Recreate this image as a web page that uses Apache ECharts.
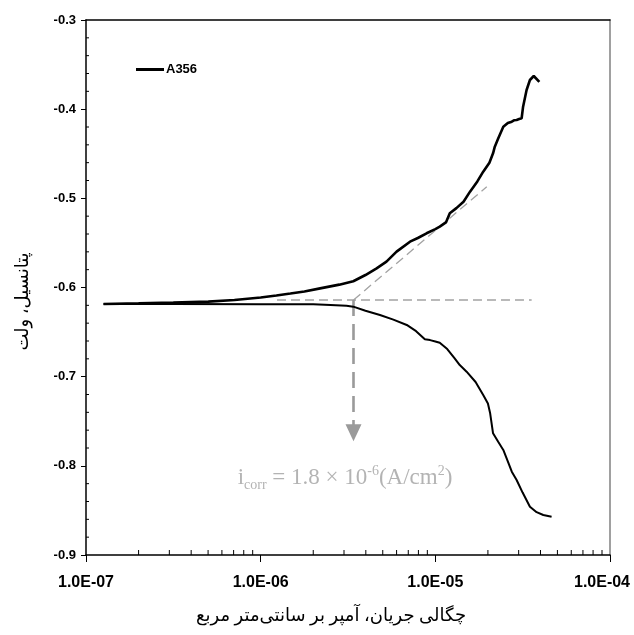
<!DOCTYPE html>
<html>
<head>
<meta charset="utf-8">
<script src="https://cdn.jsdelivr.net/npm/echarts@6/dist/echarts.min.js"></script>
<style>html,body{margin:0;padding:0;background:#fff;overflow:hidden}#c{width:634px;height:635px;overflow:hidden}</style>
</head>
<body>
<div id="c"></div>
<script>
// Anodic branch (upper)
const anodicI = [1.26e-7,2.0e-7,3.16e-7,5.01e-7,7.08e-7,1.0e-6,1.23e-6,1.48e-6,1.78e-6,2.19e-6,2.82e-6,3.39e-6,3.98e-6,4.61e-6,5.25e-6,6.0e-6,7.16e-6,7.94e-6,8.91e-6,1.0e-5,1.06e-5,1.15e-5,1.21e-5,1.32e-5,1.45e-5,1.58e-5,1.74e-5,1.88e-5,2.04e-5,2.14e-5,2.19e-5,2.29e-5,2.45e-5,2.60e-5,2.74e-5,2.82e-5,2.92e-5,3.02e-5,3.12e-5,3.18e-5,3.33e-5,3.48e-5,3.66e-5,3.94e-5];
const anodicE = [-0.6185,-0.6178,-0.6170,-0.6158,-0.6140,-0.6112,-0.6090,-0.6068,-0.6045,-0.6010,-0.5968,-0.5930,-0.5860,-0.5785,-0.5710,-0.5598,-0.5486,-0.5445,-0.5392,-0.5345,-0.5318,-0.5270,-0.5168,-0.5110,-0.5038,-0.4925,-0.4810,-0.4701,-0.4600,-0.4495,-0.4421,-0.4330,-0.4197,-0.4155,-0.4140,-0.4125,-0.4121,-0.4110,-0.4102,-0.3972,-0.3785,-0.3673,-0.3628,-0.3695];
// Cathodic branch (lower)
const cathodicI = [1.26e-7,3.16e-7,1.0e-6,2.0e-6,2.51e-6,3.10e-6,3.39e-6,3.98e-6,4.82e-6,5.75e-6,6.86e-6,7.76e-6,8.71e-6,9.33e-6,1.0e-5,1.06e-5,1.17e-5,1.29e-5,1.38e-5,1.51e-5,1.70e-5,1.88e-5,2.0e-5,2.06e-5,2.14e-5,2.29e-5,2.45e-5,2.60e-5,2.74e-5,2.92e-5,3.16e-5,3.48e-5,3.80e-5,4.15e-5,4.63e-5];
const cathodicE = [-0.6185,-0.6186,-0.6187,-0.6188,-0.6195,-0.6204,-0.6215,-0.6260,-0.6308,-0.6360,-0.6420,-0.6490,-0.6581,-0.6590,-0.6605,-0.6619,-0.6690,-0.6794,-0.6870,-0.6944,-0.7060,-0.7205,-0.7300,-0.7411,-0.7635,-0.7730,-0.7822,-0.7950,-0.8066,-0.8159,-0.8300,-0.8458,-0.8520,-0.8551,-0.8570];

// Guide lines
const ecorrLineI = [1.24e-6, 3.56e-5];
const ecorrLineE = [-0.614, -0.614];
const tafelLineI = [3.4e-6, 1.97e-5];
const tafelLineE = [-0.614, -0.487];
const icorrArrowI = [3.4e-6, 3.4e-6];
const icorrArrowE = [-0.614, -0.763];
const icorrLabelPos = [3.04e-6, -0.8136];

// Axes
const xMin = 1e-7, xMax = 1e-4;
const yMin = -0.9, yMax = -0.3, yInterval = 0.1;
const xMinorTicks = [2e-7,3e-7,4e-7,5e-7,6e-7,7e-7,8e-7,9e-7,2e-6,3e-6,4e-6,5e-6,6e-6,7e-6,8e-6,9e-6,2e-5,3e-5,4e-5,5e-5,6e-5,7e-5,8e-5,9e-5];
const yMinorTicks = [-0.88,-0.86,-0.84,-0.82,-0.78,-0.76,-0.74,-0.72,-0.68,-0.66,-0.64,-0.62,-0.58,-0.56,-0.54,-0.52,-0.48,-0.46,-0.44,-0.42,-0.38,-0.36,-0.34,-0.32];

const seriesName = 'A356';
const xTitle = 'چگالی جریان، آمپر بر سانتی‌متر مربع';
const yTitle = 'پتانسیل، ولت';

const zip = (a, b) => a.map((v, i) => [v, b[i]]);

function fmtX(v) {
  const e = Math.round(Math.log10(v));
  const m = v / Math.pow(10, e);
  const s = e < 0 ? '-' : '+';
  const ab = Math.abs(e);
  const t = m.toFixed(1) + 'E' + s + (ab < 10 ? '0' + ab : ab);
  return Math.abs(v - xMax) / xMax < 1e-6 ? '{last|' + t + '}' : t;
}

const chart = echarts.init(document.getElementById('c'), null, {renderer: 'canvas', width: 634, height: 635});
const gray = '#a3a3a3';
const xLabelFont = {fontFamily: 'Liberation Sans, Arial, sans-serif', fontWeight: 'bold', fontSize: 16, color: '#000'};
chart.setOption({
  animation: false,
  backgroundColor: '#fff',
  grid: {left: 86, right: 24, top: 20, bottom: 80, containLabel: false, outerBoundsMode: 'none'},
  legend: {
    data: [{name: seriesName, icon: 'rect'}],
    left: 131, top: 58,
    itemWidth: 28, itemHeight: 3, itemGap: 4,
    itemStyle: {color: '#000', borderWidth: 0},
    textStyle: {fontFamily: 'Liberation Sans, Arial, sans-serif', fontWeight: 'bold', fontSize: 13, color: '#000', padding: [0,0,0,-3]}
  },
  xAxis: [{
    type: 'log', logBase: 10, min: xMin, max: xMax,
    axisLine: {show: true, onZero: false, lineStyle: {color: '#000', width: 1.5}},
    axisTick: {show: true, inside: false, length: 7, lineStyle: {color: '#000', width: 1}},
    splitLine: {show: false},
    axisLabel: Object.assign({formatter: fmtX, margin: 20, hideOverlap: false,
      rich: {last: Object.assign({padding: [0, 16, 0, 0]}, xLabelFont)}}, xLabelFont),
    name: xTitle, nameLocation: 'middle', nameGap: 52,
    nameTextStyle: {fontFamily: 'Liberation Serif, DejaVu Serif, DejaVu Sans, serif', fontSize: 18, color: '#000', padding: [0, 34, 0, 0]}
  }, {
    type: 'log', logBase: 10, min: xMin, max: xMax, position: 'top',
    axisLine: {show: true, onZero: false, lineStyle: {color: '#000', width: 1.5}},
    axisTick: {show: false}, axisLabel: {show: false}, splitLine: {show: false}
  }],
  yAxis: [{
    type: 'value', min: yMin, max: yMax, interval: yInterval,
    axisLine: {show: true, onZero: false, lineStyle: {color: '#000', width: 1.5}},
    axisTick: {show: true, inside: false, length: 5, lineStyle: {color: '#000', width: 1}},
    splitLine: {show: false},
    axisLabel: {formatter: v => v.toFixed(1), margin: 10, fontFamily: 'Liberation Sans, Arial, sans-serif', fontWeight: 'bold', fontSize: 13, color: '#000'},
    name: yTitle, nameLocation: 'middle', nameGap: 54, nameRotate: 90,
    nameTextStyle: {fontFamily: 'Liberation Serif, DejaVu Serif, DejaVu Sans, serif', fontSize: 18, color: '#000', padding: [0, 28, 0, 0]}
  }, {
    type: 'value', min: yMin, max: yMax, interval: yInterval, position: 'right',
    axisLine: {show: true, onZero: false, lineStyle: {color: '#808080', width: 1.5}},
    axisTick: {show: false}, axisLabel: {show: false}, splitLine: {show: false}
  }],
  series: [
    {
      name: seriesName, type: 'line', data: zip(anodicI, anodicE), showSymbol: false, symbol: 'none',
      lineStyle: {color: '#000', width: 2.6}, itemStyle: {color: '#000'}, z: 5
    },
    {
      name: seriesName, type: 'line', data: zip(cathodicI, cathodicE), showSymbol: false, symbol: 'none',
      lineStyle: {color: '#000', width: 2}, itemStyle: {color: '#000'}, z: 5
    },
    {
      name: 'ecorr', type: 'line', data: zip(ecorrLineI, ecorrLineE), symbol: 'none',
      lineStyle: {color: gray, width: 1.3, type: [9, 5]}, z: 3
    },
    {
      name: 'tafel', type: 'line', data: zip(tafelLineI, tafelLineE), symbol: 'none',
      lineStyle: {color: gray, width: 1.3, type: [9, 5]}, z: 3
    },
    {
      name: 'icorr', type: 'line', data: [], symbol: 'none',
      markLine: {
        silent: true, symbol: ['none', 'triangle'], symbolSize: [16, 17],
        lineStyle: {color: '#9a9a9a', width: 2.6, type: [16, 8]},
        label: {show: false},
        data: [[{coord: [icorrArrowI[0], icorrArrowE[0]]}, {coord: [icorrArrowI[1], icorrArrowE[1]]}]]
      }, z: 3
    },
    {
      name: 'label', type: 'scatter', data: [icorrLabelPos], symbolSize: 0, silent: true,
      label: {
        show: true, position: 'inside',
        formatter: '{m|i}{s|corr}{m| = 1.8 × 10}{p|-6}{m|(A/cm}{p|2}{m|)}',
        rich: {
          m: {fontFamily: 'Liberation Serif, Times New Roman, serif', fontSize: 23, color: '#a0a0a0', lineHeight: 28, verticalAlign: 'middle'},
          s: {fontFamily: 'Liberation Serif, Times New Roman, serif', fontSize: 14, color: '#a0a0a0', lineHeight: 16, verticalAlign: 'bottom'},
          p: {fontFamily: 'Liberation Serif, Times New Roman, serif', fontSize: 14, color: '#a0a0a0', lineHeight: 20, verticalAlign: 'top'}
        }
      }
    },
    {
      name: 'xminor', type: 'custom', data: xMinorTicks.map(v => [v, yMin]), silent: true, clip: false,
      renderItem: (params, api) => {
        const p = api.coord([api.value(0), api.value(1)]);
        return {type: 'line', shape: {x1: p[0], y1: p[1], x2: p[0], y2: p[1] - 5}, style: {stroke: '#000', lineWidth: 1}};
      }
    },
    {
      name: 'yminor', type: 'custom', data: yMinorTicks.map(v => [xMin, v]), silent: true, clip: false,
      renderItem: (params, api) => {
        const p = api.coord([api.value(0), api.value(1)]);
        return {type: 'line', shape: {x1: p[0], y1: p[1], x2: p[0] + 3, y2: p[1]}, style: {stroke: '#000', lineWidth: 1}};
      }
    }
  ]
});
</script>
</body>
</html>
